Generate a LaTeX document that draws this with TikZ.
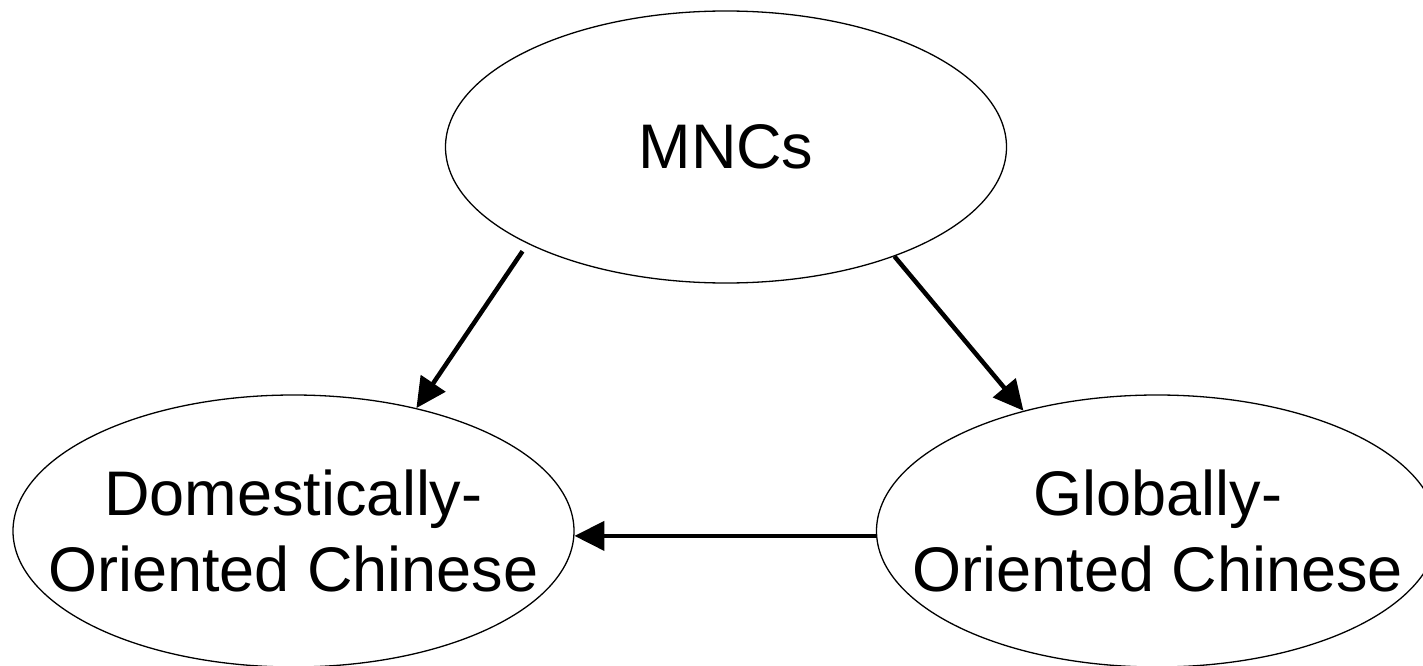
\documentclass[tikz,border=0pt]{standalone}
\usepackage{fontspec}
\setmainfont{Liberation Sans}
\usetikzlibrary{shapes.geometric,arrows.meta}
\begin{document}
\begin{tikzpicture}[x=1pt,y=-1pt,
  oval/.style={ellipse,draw=black,line width=1.3pt,minimum width=561pt,minimum height=272pt,inner sep=0pt},
  txt/.style={font=\fontsize{63}{76}\selectfont,align=center,inner sep=0pt,anchor=center},
  conn/.style={line width=4.5pt,-{Triangle[length=30pt,width=29pt]}}]
\useasboundingbox (0,0) rectangle (1423,666);
\node[oval] (mnc) at (726,147) {};
\node[oval] (dom) at (293.5,531) {};
\node[oval] (glob) at (1157,531) {};
\node[txt] (mnctxt) at (mnc.center) {MNCs};
\node[txt] (domtxt) at (dom.center) {Domestically-\\Oriented Chinese};
\node[txt] (globtxt) at (1158,531) {Globally-\\Oriented Chinese};
\draw[conn,shorten <=9pt] (mnc.206.6) -- (dom.45);
\draw[conn] (mnc.327.8) -- (glob.138.4);
\draw[conn] (glob.181.6) -- (dom.-1.6);
\end{tikzpicture}
\end{document}
